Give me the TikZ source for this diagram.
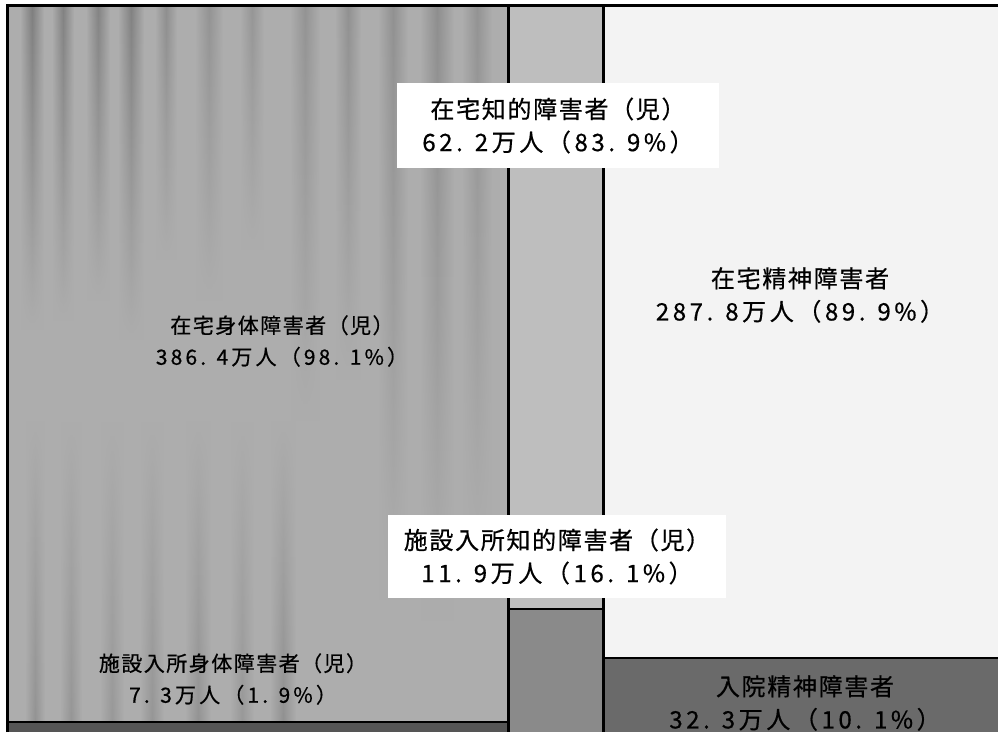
\documentclass[tikz,border=0pt]{standalone}
\usepackage{fontspec}
\setmainfont{Noto Sans CJK JP}[FakeBold=0.6]
\usetikzlibrary{fadings}
\definecolor{physbase}{HTML}{ADADAD}
\definecolor{physdark}{HTML}{7A7A7A}
\definecolor{physinst}{HTML}{555555}
\definecolor{intelhome}{HTML}{BEBEBE}
\definecolor{intelinst}{HTML}{8A8A8A}
\definecolor{mentalhome}{HTML}{F3F3F3}
\definecolor{mentalhosp}{HTML}{6A6A6A}
\newcommand\cjkln[1]{{\addfontfeatures{LetterSpace=7}#1}}
\newcommand\numln[1]{{\addfontfeatures{LetterSpace=15}#1}}
\begin{document}
\begin{tikzpicture}[x=1pt,y=-1pt,
  lab/.style={align=center,font=\fontsize{24}{33}\selectfont,inner sep=0pt,text=black},
  smalllab/.style={lab,font=\fontsize{21}{31.5}\selectfont},
  whitebox/.style={lab,fill=white},
  streak/.style={left color=physbase,right color=physbase,middle color=physdark},
  border/.style={line width=3pt,black}]
\useasboundingbox (0,0) rectangle (998,732);
\fill[white] (0,0) rectangle (998,732);
% regions
\fill[physbase] (7,5) rectangle (508,722);
\foreach \sx/\sw/\se/\so in {20/24/330/0.9,52/22/320/0.85,86/24/300/0.8,118/26/340/0.85,
  155/22/260/0.6,195/28/300/0.5,240/24/250/0.45,290/30/420/0.5,335/26/380/0.55,
  378/30/600/0.55,420/34/620/0.6,462/30/560/0.5}{
  \shade[streak,opacity=\so,path fading=south] (\sx,5) rectangle (\sx+\sw,\se);
}
\foreach \sx/\sw/\so in {25/20/0.5,60/22/0.45,100/24/0.4,140/24/0.45,185/26/0.5,230/24/0.4,270/26/0.55}{
  \shade[streak,opacity=\so,path fading=north] (\sx,420) rectangle (\sx+\sw,722);
}
\fill[physinst] (7,722) rectangle (508,732);
\fill[intelhome] (508,5) rectangle (603,609);
\fill[intelinst] (508,609) rectangle (603,732);
\fill[mentalhome] (603,5) rectangle (998,658);
\fill[mentalhosp] (603,658) rectangle (998,732);
% borders
\draw[border] (7,732) -- (7,5) -- (998,5);
\draw[border] (508,5) -- (508,732);
\draw[border] (603,5) -- (603,732);
\draw[line width=2.5pt] (7,722) -- (508,722);
\draw[line width=2pt] (508,609) -- (603,609);
\draw[line width=2pt] (603,658) -- (998,658);
% labels
\node[whitebox,minimum width=322pt,minimum height=85pt] (intelhomelab) at (558,125.5)
  {\cjkln{在宅知的障害者（児）}\\\numln{62. 2万人（83. 9\%）}};
\node[whitebox,minimum width=338pt,minimum height=83pt] (intelinstlab) at (557,556.5)
  {\cjkln{施設入所知的障害者（児）}\\\numln{11. 9万人（16. 1\%）}};
\node[smalllab] (physhomelab) at (282,341)
  {\cjkln{在宅身体障害者（児）}\\\numln{386. 4万人（98. 1\%）}};
\node[smalllab] (physinstlab) at (233,679)
  {\cjkln{施設入所身体障害者（児）}\\\numln{7. 3万人（1. 9\%）}};
\node[lab] (mentalhomelab) at (800,295)
  {\cjkln{在宅精神障害者}\\\numln{287. 8万人（89. 9\%）}};
\node[lab] (mentalhosplab) at (805,703)
  {\cjkln{入院精神障害者}\\\numln{32. 3万人（10. 1\%）}};
\end{tikzpicture}
\end{document}
